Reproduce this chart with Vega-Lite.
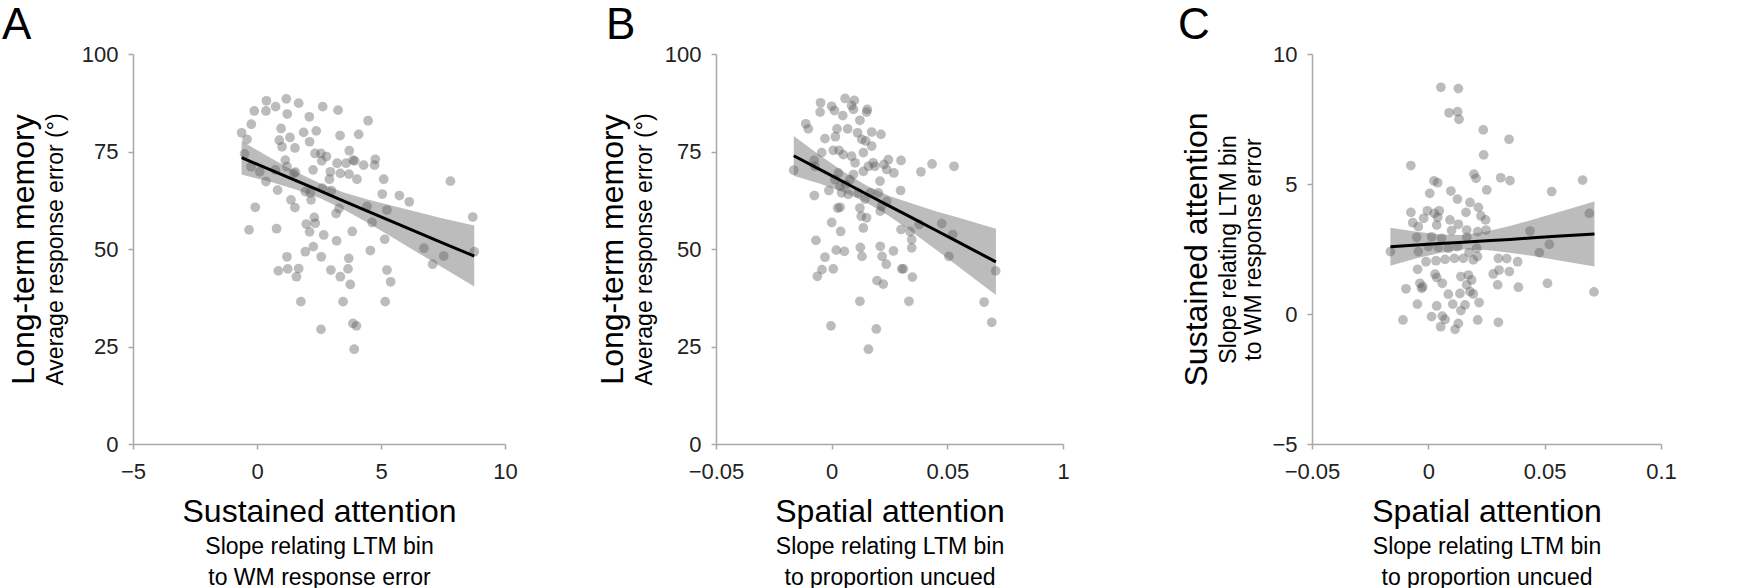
{
  "$schema": "https://vega.github.io/schema/vega-lite/v6.json",
  "padding": {"left": 2, "top": 4, "right": 0, "bottom": 0},
  "datasets": {
    "a": [{"x":0.38,"y":88.0},{"x":1.18,"y":88.5},{"x":1.68,"y":87.4},{"x":-0.11,"y":85.4},{"x":0.36,"y":85.4},{"x":0.75,"y":86.5},{"x":1.22,"y":84.6},{"x":2.65,"y":86.5},{"x":3.27,"y":85.6},{"x":2.11,"y":83.9},{"x":-0.23,"y":82.0},{"x":-0.62,"y":79.8},{"x":-0.40,"y":78.1},{"x":0.97,"y":80.9},{"x":1.33,"y":78.6},{"x":1.88,"y":79.9},{"x":2.39,"y":80.3},{"x":3.35,"y":79.1},{"x":4.10,"y":79.4},{"x":4.48,"y":82.9},{"x":0.90,"y":77.9},{"x":1.01,"y":76.2},{"x":2.12,"y":77.5},{"x":1.53,"y":75.9},{"x":-0.50,"y":74.4},{"x":1.14,"y":72.8},{"x":2.34,"y":74.5},{"x":2.58,"y":74.5},{"x":3.72,"y":75.2},{"x":3.87,"y":72.8},{"x":2.61,"y":72.6},{"x":2.80,"y":73.7},{"x":3.23,"y":72.0},{"x":3.59,"y":72.0},{"x":4.30,"y":71.5},{"x":4.77,"y":73.0},{"x":4.74,"y":71.5},{"x":3.94,"y":72.6},{"x":-0.24,"y":71.1},{"x":0.11,"y":69.8},{"x":0.74,"y":70.3},{"x":1.21,"y":71.1},{"x":1.55,"y":69.7},{"x":1.48,"y":69.4},{"x":2.26,"y":70.3},{"x":2.96,"y":69.8},{"x":3.36,"y":69.4},{"x":3.71,"y":69.2},{"x":4.03,"y":67.9},{"x":2.92,"y":67.9},{"x":0.36,"y":67.3},{"x":0.83,"y":65.1},{"x":1.37,"y":62.6},{"x":1.53,"y":60.6},{"x":1.95,"y":64.7},{"x":2.15,"y":64.4},{"x":2.18,"y":62.6},{"x":2.63,"y":65.6},{"x":3.00,"y":65.0},{"x":5.11,"y":67.9},{"x":5.05,"y":64.1},{"x":5.74,"y":63.7},{"x":6.14,"y":62.1},{"x":3.31,"y":60.4},{"x":3.19,"y":59.1},{"x":4.44,"y":60.9},{"x":5.24,"y":60.0},{"x":4.64,"y":56.8},{"x":-0.07,"y":60.7},{"x":-0.32,"y":54.9},{"x":0.79,"y":55.2},{"x":1.99,"y":56.4},{"x":2.35,"y":56.6},{"x":2.31,"y":58.1},{"x":2.12,"y":54.4},{"x":2.69,"y":53.6},{"x":3.21,"y":52.1},{"x":3.84,"y":54.5},{"x":5.15,"y":52.5},{"x":4.57,"y":49.6},{"x":2.27,"y":50.6},{"x":1.95,"y":49.3},{"x":2.59,"y":48.0},{"x":1.21,"y":48.0},{"x":0.86,"y":44.4},{"x":1.24,"y":44.9},{"x":1.68,"y":45.0},{"x":1.59,"y":42.9},{"x":2.98,"y":44.6},{"x":3.36,"y":42.9},{"x":3.67,"y":44.9},{"x":3.70,"y":47.6},{"x":3.76,"y":40.9},{"x":5.24,"y":44.6},{"x":5.39,"y":41.6},{"x":6.73,"y":50.2},{"x":7.08,"y":46.1},{"x":7.53,"y":48.2},{"x":7.80,"y":67.4},{"x":8.70,"y":58.2},{"x":8.76,"y":49.3},{"x":1.77,"y":36.5},{"x":3.47,"y":36.5},{"x":5.17,"y":36.5},{"x":2.58,"y":29.4},{"x":3.87,"y":30.9},{"x":4.01,"y":30.3},{"x":3.92,"y":24.3}],
    "afit": [{"x":-0.62,"fit":73.4,"lo":69.1,"hi":77.7},{"x":0.5,"fit":70.4,"lo":67.3,"hi":73.5},{"x":1.5,"fit":67.7,"lo":65.4,"hi":70.0},{"x":2.55,"fit":64.9,"lo":63.0,"hi":66.8},{"x":3.5,"fit":62.3,"lo":60.1,"hi":64.5},{"x":4.5,"fit":59.6,"lo":56.6,"hi":62.6},{"x":5.5,"fit":56.9,"lo":52.8,"hi":61.0},{"x":6.5,"fit":54.2,"lo":49.0,"hi":59.4},{"x":7.5,"fit":51.5,"lo":45.2,"hi":57.8},{"x":8.76,"fit":48.2,"lo":40.4,"hi":56.0}],
    "b": [{"x":0.0058,"y":88.6},{"x":0.0098,"y":88.1},{"x":0.0086,"y":86.8},{"x":-0.0048,"y":87.5},{"x":0.0,"y":86.6},{"x":0.0012,"y":85.5},{"x":-0.005,"y":85.1},{"x":0.0048,"y":84.2},{"x":0.0094,"y":85.8},{"x":0.0154,"y":85.8},{"x":0.0151,"y":85.1},{"x":-0.0112,"y":82.1},{"x":-0.0101,"y":80.8},{"x":0.0122,"y":83.0},{"x":0.0023,"y":80.8},{"x":0.0069,"y":80.8},{"x":0.0112,"y":79.8},{"x":0.0173,"y":80.0},{"x":0.0213,"y":79.4},{"x":-0.0029,"y":78.3},{"x":0.0016,"y":78.8},{"x":0.013,"y":78.1},{"x":0.0147,"y":77.7},{"x":-0.0043,"y":74.7},{"x":0.0007,"y":75.3},{"x":0.0032,"y":75.3},{"x":0.005,"y":74.2},{"x":0.0086,"y":73.8},{"x":0.0101,"y":72.1},{"x":0.0137,"y":74.7},{"x":0.0173,"y":76.4},{"x":0.0179,"y":72.1},{"x":0.0159,"y":71.2},{"x":0.0226,"y":71.7},{"x":0.0245,"y":72.9},{"x":0.0269,"y":69.5},{"x":0.03,"y":72.7},{"x":0.0386,"y":69.8},{"x":0.0434,"y":71.8},{"x":0.0529,"y":71.2},{"x":-0.0076,"y":72.7},{"x":-0.0072,"y":71.2},{"x":-0.0164,"y":70.2},{"x":0.0029,"y":69.5},{"x":0.0014,"y":67.8},{"x":0.0036,"y":66.1},{"x":0.0061,"y":66.5},{"x":0.0079,"y":67.8},{"x":0.0094,"y":69.1},{"x":0.0137,"y":69.9},{"x":0.0187,"y":71.2},{"x":0.0209,"y":67.4},{"x":0.0238,"y":70.4},{"x":-0.0075,"y":63.7},{"x":-0.0012,"y":65.0},{"x":0.0043,"y":64.4},{"x":0.0072,"y":64.0},{"x":0.0115,"y":64.4},{"x":0.0144,"y":62.8},{"x":0.0166,"y":64.4},{"x":0.0202,"y":64.4},{"x":0.0216,"y":61.0},{"x":0.0298,"y":65.0},{"x":0.0036,"y":60.7},{"x":0.0026,"y":60.5},{"x":0.0122,"y":60.5},{"x":0.021,"y":59.7},{"x":0.0238,"y":62.2},{"x":0.0,"y":56.8},{"x":0.0039,"y":54.5},{"x":0.0128,"y":58.4},{"x":0.0137,"y":55.4},{"x":0.0151,"y":58.0},{"x":0.03,"y":55.0},{"x":0.0339,"y":54.5},{"x":0.0346,"y":52.4},{"x":0.0346,"y":50.3},{"x":0.0378,"y":56.3},{"x":0.0476,"y":56.5},{"x":0.0523,"y":53.7},{"x":-0.0068,"y":52.2},{"x":0.002,"y":49.7},{"x":0.0055,"y":49.4},{"x":0.0124,"y":50.4},{"x":0.0131,"y":48.1},{"x":0.021,"y":50.7},{"x":0.0218,"y":48.1},{"x":0.0236,"y":46.1},{"x":0.0267,"y":49.5},{"x":-0.0029,"y":47.9},{"x":-0.0042,"y":44.7},{"x":0.0007,"y":44.9},{"x":-0.0062,"y":43.0},{"x":0.0303,"y":44.9},{"x":0.031,"y":44.9},{"x":0.0349,"y":42.8},{"x":0.0196,"y":41.9},{"x":0.0223,"y":41.0},{"x":0.0507,"y":48.1},{"x":0.0709,"y":44.4},{"x":0.0122,"y":36.6},{"x":0.0334,"y":36.6},{"x":0.0659,"y":36.4},{"x":0.0692,"y":31.2},{"x":-0.0003,"y":30.3},{"x":0.0193,"y":29.5},{"x":0.0159,"y":24.3}],
    "bfit": [{"x":-0.0164,"fit":73.9,"lo":68.8,"hi":79.0},{"x":-0.005,"fit":70.35,"lo":66.7,"hi":74.0},{"x":0.005,"fit":67.24,"lo":64.6,"hi":69.9},{"x":0.015,"fit":64.1,"lo":61.9,"hi":66.3},{"x":0.025,"fit":61.0,"lo":58.4,"hi":63.6},{"x":0.035,"fit":57.9,"lo":54.2,"hi":61.6},{"x":0.045,"fit":54.8,"lo":49.9,"hi":59.7},{"x":0.055,"fit":51.7,"lo":45.4,"hi":58.0},{"x":0.071,"fit":46.7,"lo":38.2,"hi":55.2}],
    "c": [{"x":0.0054,"y":8.72},{"x":0.0129,"y":8.67},{"x":0.0089,"y":7.74},{"x":0.0126,"y":7.78},{"x":0.0132,"y":7.49},{"x":0.0236,"y":7.08},{"x":0.0347,"y":6.72},{"x":0.0238,"y":6.12},{"x":-0.0075,"y":5.71},{"x":0.0196,"y":5.38},{"x":0.0205,"y":5.22},{"x":0.0311,"y":5.24},{"x":0.0351,"y":5.13},{"x":0.0663,"y":5.15},{"x":0.0024,"y":5.12},{"x":0.004,"y":5.05},{"x":0.0006,"y":4.64},{"x":0.0097,"y":4.73},{"x":0.0125,"y":4.42},{"x":0.0251,"y":4.77},{"x":0.053,"y":4.71},{"x":0.0179,"y":4.29},{"x":0.0215,"y":4.10},{"x":0.0162,"y":3.91},{"x":-0.0075,"y":3.91},{"x":-0.0004,"y":3.97},{"x":0.0047,"y":3.97},{"x":-0.002,"y":3.68},{"x":0.0026,"y":3.87},{"x":0.004,"y":3.72},{"x":0.0093,"y":3.62},{"x":0.0226,"y":3.77},{"x":0.0246,"y":3.62},{"x":0.0129,"y":3.45},{"x":-0.0067,"y":3.51},{"x":-0.0043,"y":3.36},{"x":0.0036,"y":3.42},{"x":0.01,"y":3.21},{"x":0.0165,"y":3.23},{"x":0.0212,"y":3.17},{"x":0.0248,"y":3.23},{"x":0.0437,"y":3.19},{"x":0.0692,"y":3.87},{"x":-0.0163,"y":2.40},{"x":-0.005,"y":2.95},{"x":0.0014,"y":2.97},{"x":0.0057,"y":2.91},{"x":-0.0043,"y":2.40},{"x":0.0,"y":2.59},{"x":0.0043,"y":2.56},{"x":0.0086,"y":2.53},{"x":0.0126,"y":2.59},{"x":0.0165,"y":2.95},{"x":0.0208,"y":2.53},{"x":0.0175,"y":2.36},{"x":0.0211,"y":2.21},{"x":0.052,"y":2.68},{"x":0.0477,"y":2.36},{"x":-0.001,"y":2.01},{"x":0.0033,"y":2.05},{"x":0.0072,"y":2.10},{"x":0.0112,"y":2.14},{"x":0.015,"y":2.14},{"x":0.0193,"y":2.08},{"x":0.0301,"y":2.14},{"x":0.0337,"y":2.13},{"x":0.0384,"y":2.01},{"x":0.0304,"y":1.69},{"x":0.0348,"y":1.63},{"x":0.0279,"y":1.54},{"x":-0.0046,"y":1.72},{"x":0.0029,"y":1.53},{"x":0.0036,"y":1.40},{"x":0.014,"y":1.44},{"x":0.0172,"y":1.50},{"x":0.0186,"y":1.31},{"x":-0.0036,"y":1.18},{"x":-0.0024,"y":1.05},{"x":0.006,"y":1.18},{"x":0.0165,"y":1.12},{"x":-0.0096,"y":0.97},{"x":0.0136,"y":0.79},{"x":0.0179,"y":0.86},{"x":0.0193,"y":0.77},{"x":0.0086,"y":0.76},{"x":0.0298,"y":1.12},{"x":0.0387,"y":1.03},{"x":0.0512,"y":1.18},{"x":0.0712,"y":0.85},{"x":-0.0029,"y":0.99},{"x":-0.0047,"y":0.38},{"x":0.0036,"y":0.31},{"x":0.0105,"y":0.38},{"x":0.0158,"y":0.35},{"x":0.0218,"y":0.44},{"x":0.014,"y":0.13},{"x":0.0014,"y":-0.10},{"x":0.006,"y":-0.08},{"x":0.0072,"y":-0.21},{"x":-0.0109,"y":-0.23},{"x":0.0129,"y":-0.36},{"x":0.0212,"y":-0.23},{"x":0.0301,"y":-0.32},{"x":0.0053,"y":-0.49},{"x":0.0115,"y":-0.59}],
    "cfit": [{"x":-0.0163,"fit":2.59,"lo":1.86,"hi":3.32},{"x":-0.005,"fit":2.65,"lo":2.14,"hi":3.16},{"x":0.005,"fit":2.71,"lo":2.35,"hi":3.06},{"x":0.015,"fit":2.76,"lo":2.48,"hi":3.04},{"x":0.025,"fit":2.82,"lo":2.46,"hi":3.17},{"x":0.035,"fit":2.87,"lo":2.36,"hi":3.38},{"x":0.045,"fit":2.93,"lo":2.23,"hi":3.63},{"x":0.055,"fit":2.99,"lo":2.08,"hi":3.89},{"x":0.0714,"fit":3.08,"lo":1.83,"hi":4.33}]
  },
  "hconcat": [
    {
      "width": 372, "height": 390,
      "title": {"text": "A", "anchor": "start", "frame": "group", "dx": -131, "offset": -5, "fontSize": 44},
      "layer": [
        {"data": {"name": "afit"}, "mark": {"type": "area", "color": "#a0a0a0", "opacity": 0.7},
         "encoding": {
           "x": {"field": "x", "type": "quantitative", "scale": {"domain": [-5, 10], "nice": false, "zero": false},
                 "axis": {"orient": "bottom", "title": "Sustained attention", "titleFontSize": 32, "titlePadding": 52, "labels": false, "ticks": false, "domain": false}},
           "y": {"field": "lo", "type": "quantitative", "scale": {"domain": [0, 100], "nice": false, "zero": false},
                 "axis": {"orient": "left", "title": "Long-term memory", "titleFontSize": 32, "titlePadding": 93, "labels": false, "ticks": false, "domain": false}},
           "y2": {"field": "hi"}}},
        {"data": {"name": "a"}, "mark": {"type": "circle", "size": 95, "color": "#606060", "opacity": 0.42},
         "encoding": {
           "x": {"field": "x", "type": "quantitative", "axis": {"orient": "bottom", "title": null, "values": [-5, 0, 5, 10], "labelPadding": 12}},
           "y": {"field": "y", "type": "quantitative", "axis": {"orient": "left", "title": null, "values": [0, 25, 50, 75, 100], "labelPadding": 10}}}},
        {"data": {"name": "afit"}, "mark": {"type": "line", "color": "#000", "strokeWidth": 3},
         "encoding": {
           "x": {"field": "x", "type": "quantitative", "axis": {"orient": "bottom", "title": ["Slope relating LTM bin", "to WM response error"], "titleFontSize": 23, "titleLineHeight": 31, "titlePadding": 91, "labels": false, "ticks": false, "domain": false}},
           "y": {"field": "fit", "type": "quantitative", "axis": {"orient": "left", "title": "Average response error (°)", "titleFontSize": 23, "titlePadding": 66, "labels": false, "ticks": false, "domain": false}}}}
      ],
      "resolve": {"axis": {"x": "independent", "y": "independent"}}
    },
    {
      "spacing": 108,
      "hconcat": [
        {
          "width": 347, "height": 390,
          "title": {"text": "B", "anchor": "start", "frame": "group", "dx": -110, "offset": -5, "fontSize": 44},
          "layer": [
            {"data": {"name": "bfit"}, "mark": {"type": "area", "color": "#a0a0a0", "opacity": 0.7},
             "encoding": {
               "x": {"field": "x", "type": "quantitative", "scale": {"domain": [-0.05, 0.1], "nice": false, "zero": false},
                     "axis": {"orient": "bottom", "title": "Spatial attention", "titleFontSize": 32, "titlePadding": 52, "labels": false, "ticks": false, "domain": false}},
               "y": {"field": "lo", "type": "quantitative", "scale": {"domain": [0, 100], "nice": false, "zero": false},
                     "axis": {"orient": "left", "title": "Long-term memory", "titleFontSize": 32, "titlePadding": 87, "labels": false, "ticks": false, "domain": false}},
               "y2": {"field": "hi"}}},
            {"data": {"name": "b"}, "mark": {"type": "circle", "size": 95, "color": "#606060", "opacity": 0.42},
             "encoding": {
               "x": {"field": "x", "type": "quantitative", "axis": {"orient": "bottom", "title": null, "values": [-0.05, 0, 0.05, 0.1], "format": ".2~f", "labelExpr": "datum.value === 0.1 ? '1' : datum.label", "labelPadding": 12}},
               "y": {"field": "y", "type": "quantitative", "axis": {"orient": "left", "title": null, "values": [0, 25, 50, 75, 100], "labelPadding": 10}}}},
            {"data": {"name": "bfit"}, "mark": {"type": "line", "color": "#000", "strokeWidth": 3},
             "encoding": {
               "x": {"field": "x", "type": "quantitative", "axis": {"orient": "bottom", "title": ["Slope relating LTM bin", "to proportion uncued"], "titleFontSize": 23, "titleLineHeight": 31, "titlePadding": 91, "labels": false, "ticks": false, "domain": false}},
               "y": {"field": "fit", "type": "quantitative", "axis": {"orient": "left", "title": "Average response error (°)", "titleFontSize": 23, "titlePadding": 60, "labels": false, "ticks": false, "domain": false}}}}
          ],
          "resolve": {"axis": {"x": "independent", "y": "independent"}}
        },
        {
          "width": 349, "height": 390,
          "title": {"text": "C", "anchor": "start", "frame": "group", "dx": -134, "offset": -5, "fontSize": 44},
          "layer": [
            {"data": {"name": "cfit"}, "mark": {"type": "area", "color": "#a0a0a0", "opacity": 0.7},
             "encoding": {
               "x": {"field": "x", "type": "quantitative", "scale": {"domain": [-0.05, 0.1], "nice": false, "zero": false},
                     "axis": {"orient": "bottom", "title": "Spatial attention", "titleFontSize": 32, "titlePadding": 52, "labels": false, "ticks": false, "domain": false}},
               "y": {"field": "lo", "type": "quantitative", "scale": {"domain": [-5, 10], "nice": false, "zero": false},
                     "axis": {"orient": "left", "title": "Sustained attention", "titleFontSize": 32, "titlePadding": 99, "labels": false, "ticks": false, "domain": false}},
               "y2": {"field": "hi"}}},
            {"data": {"name": "c"}, "mark": {"type": "circle", "size": 95, "color": "#606060", "opacity": 0.42},
             "encoding": {
               "x": {"field": "x", "type": "quantitative", "axis": {"orient": "bottom", "title": null, "values": [-0.05, 0, 0.05, 0.1], "format": ".2~f", "labelPadding": 12}},
               "y": {"field": "y", "type": "quantitative", "axis": {"orient": "left", "title": null, "values": [-5, 0, 5, 10], "labelPadding": 10}}}},
            {"data": {"name": "cfit"}, "mark": {"type": "line", "color": "#000", "strokeWidth": 3},
             "encoding": {
               "x": {"field": "x", "type": "quantitative", "axis": {"orient": "bottom", "title": ["Slope relating LTM bin", "to proportion uncued"], "titleFontSize": 23, "titleLineHeight": 31, "titlePadding": 91, "labels": false, "ticks": false, "domain": false}},
               "y": {"field": "fit", "type": "quantitative", "axis": {"orient": "left", "title": ["Slope relating LTM bin", "to WM response error"], "titleFontSize": 23, "titleLineHeight": 25, "titlePadding": 47, "labels": false, "ticks": false, "domain": false}}}}
          ],
          "resolve": {"axis": {"x": "independent", "y": "independent"}}
        }
      ]
    }
  ],
  "spacing": 78,
  "config": {
    "view": {"stroke": null},
    "font": "Liberation Sans",
    "axis": {"grid": false, "domainColor": "#a8a8a8", "domainWidth": 1.5, "tickColor": "#a8a8a8", "tickWidth": 1.5, "tickSize": 5, "labelFont": "Liberation Sans", "labelFontSize": 22, "labelColor": "#222", "labelFlush": false, "titleFont": "Liberation Sans", "titleColor": "#000", "titleFontWeight": "normal"},
    "title": {"font": "Liberation Sans", "fontSize": 44, "fontWeight": "normal", "color": "#000"}
  }
}
